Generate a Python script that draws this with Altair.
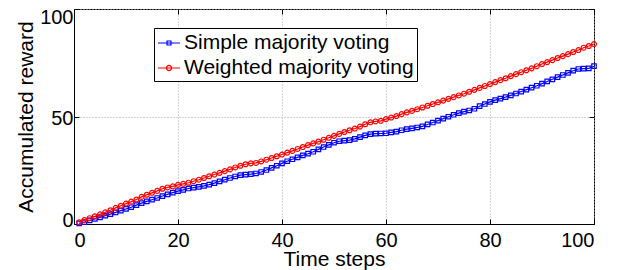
import altair as alt
import pandas as pd

steps = list(range(1, 101))

simple = [0.3, 0.9, 1.7, 2.4, 3.1, 3.9, 4.6, 5.4, 6.2, 7.0,
          7.8, 8.8, 9.7, 10.5, 11.3, 12.1, 13.0, 13.8, 14.6, 15.3,
          15.9, 16.5, 16.9, 17.3, 17.7, 18.3, 19.0, 19.8, 20.6, 21.4,
          22.1, 22.7, 23.0, 23.2, 23.5, 24.2, 25.1, 26.1, 27.1, 28.2,
          29.2, 30.1, 31.0, 31.9, 32.7, 33.6, 34.7, 35.8, 36.8, 37.8,
          38.5, 38.8, 39.0, 39.6, 40.4, 41.2, 41.8, 42.0, 42.1, 42.2,
          42.6, 43.0, 43.6, 44.1, 44.5, 44.9, 45.4, 46.3, 47.2, 48.1,
          49.0, 49.9, 50.8, 51.6, 52.3, 52.8, 53.6, 54.8, 55.8, 56.8,
          57.6, 58.3, 59.0, 59.8, 60.7, 61.6, 62.5, 63.4, 64.3, 65.3,
          66.3, 67.3, 68.3, 69.3, 70.3, 71.3, 72.1, 72.3, 72.4, 73.4]

weighted = [0.8, 1.8, 2.7, 3.6, 4.5, 5.4, 6.4, 7.5, 8.5, 9.5,
            10.4, 11.4, 12.6, 13.6, 14.5, 15.4, 16.4, 17.0, 17.5, 18.2,
            18.7, 19.2, 19.9, 20.6, 21.4, 22.2, 23.0, 23.8, 24.6, 25.4,
            26.3, 27.1, 27.8, 28.2, 28.4, 29.1, 29.9, 30.7, 31.5, 32.3,
            33.2, 34.0, 34.9, 35.8, 36.7, 37.5, 38.3, 39.2, 40.1, 41.0,
            41.9, 42.8, 43.6, 44.4, 45.3, 46.4, 47.3, 47.7, 48.0, 48.8,
            49.5, 50.2, 51.1, 51.9, 52.6, 53.4, 54.2, 55.0, 55.8, 56.6,
            57.4, 58.2, 59.0, 59.8, 60.6, 61.5, 62.4, 63.3, 64.2, 65.1,
            66.0, 66.9, 67.8, 68.8, 69.7, 70.6, 71.5, 72.4, 73.4, 74.4,
            75.3, 76.2, 77.2, 78.1, 79.0, 80.0, 80.9, 82.0, 82.8, 83.7]

series_names = ["Simple majority voting", "Weighted majority voting"]
series_colors = ["#0000ff", "#ff0000"]
tick_values = [0, 20, 40, 60, 80, 100]
y_tick_values = [0, 50, 100]

df = pd.DataFrame({
    "t": steps + steps,
    "value": simple + weighted,
    "series": [series_names[0]] * len(steps) + [series_names[1]] * len(steps),
})

FONT = "Liberation Sans"
FS_TICK = 20
FS = 21
W, H = 520, 215

xs = alt.Scale(domain=[0, 100], nice=False, zero=False)
ys = alt.Scale(domain=[0, 100], nice=False, zero=False)

base = alt.Chart(df)

main_x = alt.Axis(orient="bottom", values=tick_values, ticks=False, grid=True,
                  gridDash=[1, 2], gridColor="#a8a8a8", gridWidth=1,
                  domainColor="black", labelFont=FONT, labelFontSize=FS_TICK,
                  labelColor="black", labelPadding=6, title="Time steps",
                  titleFont=FONT, titleFontSize=FS, titleFontWeight="normal",
                  titleColor="black", titleY=41, titleBaseline="alphabetic")
main_y = alt.Axis(orient="left", values=y_tick_values, ticks=False, grid=True,
                  gridDash=[1, 2], gridColor="#a8a8a8", gridWidth=1,
                  domainColor="black", labelFont=FONT, labelFontSize=FS_TICK,
                  labelColor="black", labelPadding=1, labelOffset=2,
                  labelFlush=True, labelFlushOffset=4,
                  title="Accumulated reward",
                  titleFont=FONT, titleFontSize=FS, titleFontWeight="normal",
                  titleColor="black", titleX=-42, titleBaseline="alphabetic")


def tick_axis(orient, values, offset):
    return alt.Axis(orient=orient, values=values, ticks=True, tickSize=5,
                    tickColor="black", tickWidth=1, labels=False, grid=False,
                    domain=False, title=None, offset=offset)


blue = base.transform_filter(alt.datum.series == series_names[0])
red = base.transform_filter(alt.datum.series == series_names[1])

l1 = blue.mark_line(color=series_colors[0], strokeWidth=1.2).encode(
    x=alt.X("t:Q", scale=xs, axis=main_x),
    y=alt.Y("value:Q", scale=ys, axis=main_y),
)
l2 = red.mark_line(color=series_colors[1], strokeWidth=1.2).encode(
    x=alt.X("t:Q", scale=xs, axis=tick_axis("top", tick_values, -H)),
    y=alt.Y("value:Q", scale=ys, axis=tick_axis("right", y_tick_values, -W)),
)
p1 = blue.mark_point(shape="square", size=20, filled=False, strokeWidth=1.2,
                     opacity=1, color=series_colors[0]).encode(
    x=alt.X("t:Q", scale=xs, axis=tick_axis("bottom", tick_values, -H)),
    y=alt.Y("value:Q", scale=ys, axis=tick_axis("left", y_tick_values, -W)),
)
p2 = red.mark_point(shape="circle", size=24, filled=False, strokeWidth=1.2,
                    opacity=1, color=series_colors[1]).encode(
    x=alt.X("t:Q", scale=xs, axis=None),
    y=alt.Y("value:Q", scale=ys, axis=None),
)

sq = "M-1,0H1M-0.18,-0.18H0.18V0.18H-0.18Z"
ci = "M-1,0H1M-0.23,0A0.23,0.23 0 1,1 0.23,0A0.23,0.23 0 1,1 -0.23,0Z"

leg = alt.Legend(orient="none", legendX=80, legendY=19, title=None,
                 labelFont=FONT, labelFontSize=FS, labelColor="black",
                 labelLimit=1000,
                 symbolSize=484, symbolStrokeWidth=1.2, labelOffset=3,
                 rowPadding=3, padding=3, strokeColor="black",
                 fillColor="white", cornerRadius=0)

legend_layer = base.transform_filter("datum.t < 0").mark_point(
    filled=False, size=484, opacity=1, strokeWidth=1.2).encode(
    x=alt.X("t:Q", scale=xs, axis=None),
    y=alt.Y("value:Q", scale=ys, axis=None),
    color=alt.Color("series:N", scale=alt.Scale(domain=series_names, range=series_colors), legend=leg),
    shape=alt.Shape("series:N", scale=alt.Scale(domain=series_names, range=[sq, ci]), legend=leg),
)

chart = alt.layer(l1, p1, l2, p2, legend_layer).resolve_axis(
    x="independent", y="independent"
).properties(
    width=W, height=H,
    autosize=alt.AutoSizeParams(type="none"),
    padding={"left": 66, "top": 1, "right": 24, "bottom": 46},
    background="white",
).configure_view(stroke="black", strokeWidth=1)

chart.save("out.html", embed_options={"renderer": "svg", "actions": False})
